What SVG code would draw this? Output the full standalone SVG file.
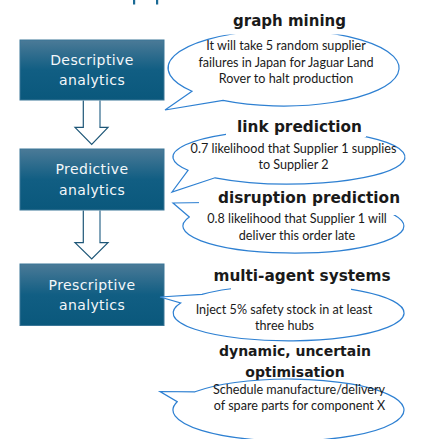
<svg xmlns="http://www.w3.org/2000/svg" width="424" height="439" viewBox="0 0 424 439">
  <defs>
    <linearGradient id="boxGrad" x1="0" y1="0" x2="0" y2="1">
      <stop offset="0" stop-color="#4b7a97"/>
      <stop offset="0.5" stop-color="#115e83"/>
      <stop offset="1" stop-color="#0a587c"/>
    </linearGradient>
    <style>
      .box { fill: url(#boxGrad); stroke: #3a7697; stroke-width: 1; }
      .boxText { font-family: "DejaVu Sans", Verdana, sans-serif; font-size: 14px; fill: #f3f7fa; text-anchor: middle; letter-spacing: 0.4px; }
      .balloon { fill: #ffffff; stroke: #2e80d2; stroke-width: 1.2; }
      .titleBg { fill: #ffffff; stroke: none; }
      .title { font-family: "DejaVu Sans", Verdana, sans-serif; font-weight: bold; font-size: 15.3px; fill: #1a1a1a; text-anchor: middle; }
      .body { font-family: Lato, "Liberation Sans", sans-serif; font-size: 12.6px; fill: #1a1a1a; text-anchor: middle; }
      .arrow { fill: #ffffff; stroke: #1d5677; stroke-width: 1.2; }
      .arrowEdge { fill: none; stroke: #86a8bd; stroke-width: 1.6; }
    </style>
  </defs>

  <rect x="0" y="0" width="424" height="439" fill="#ffffff"/>

  <!-- cut-off remnants at top -->
  <rect x="133" y="0" width="2.2" height="4.5" fill="#1b6a95"/>
  <rect x="156" y="0" width="2.2" height="4.5" fill="#1b6a95"/>

  <g id="connectors">
    <path class="arrow" d="M83.3,100.5 V127.3 H75 L91.7,144.3 L108,127.3 H100 V100.5"/>
    <line class="arrowEdge" x1="100" y1="101" x2="100" y2="126.5"/>
    <path class="arrow" d="M83.3,210.5 V242.7 H75 L91.7,259 L108,242.7 H100 V210.5"/>
    <line class="arrowEdge" x1="100" y1="211" x2="100" y2="242"/>
  </g>

  <g id="descriptive">
    <rect class="box" x="20" y="40" width="144" height="60"/>
    <text class="boxText" x="92" y="64.5">Descriptive</text>
    <text class="boxText" x="92" y="85">analytics</text>
  </g>

  <g id="predictive">
    <rect class="box" x="20" y="149" width="144" height="61"/>
    <text class="boxText" x="92" y="174">Predictive</text>
    <text class="boxText" x="92" y="194.5">analytics</text>
  </g>

  <g id="prescriptive">
    <rect class="box" x="20" y="264" width="144" height="61.5"/>
    <text class="boxText" x="92" y="289.5">Prescriptive</text>
    <text class="boxText" x="92" y="310">analytics</text>
  </g>

  <g id="graph-mining">
    <path class="balloon" d="M192,91.2 L165,110 L223,100.4 A115.5 38 0 1 0 192,91.2 Z"/>
    <rect class="titleBg" x="224" y="6" width="140" height="28.5"/>
    <text class="title" x="289.5" y="26" style="font-size:15px">graph mining</text>
    <text class="body" x="286" y="50">It will take 5 random supplier</text>
    <text class="body" x="286" y="66.5">failures in Japan for Jaguar Land</text>
    <text class="body" x="286" y="83">Rover to halt production</text>
  </g>

  <g id="link-prediction">
    <path class="balloon" d="M188,170.3 L172,192 L215,177.8 A116 27 0 1 0 188,170.3 Z"/>
    <rect class="titleBg" x="226" y="112" width="140" height="25"/>
    <text class="title" x="299.5" y="132">link prediction</text>
    <text class="body" x="293.5" y="153">0.7 likelihood that Supplier 1 supplies</text>
    <text class="body" x="293.5" y="169">to Supplier 2</text>
  </g>

  <g id="disruption-prediction">
    <path class="balloon" d="M243,202 L173,203 L189.3,217 A110.5 27 0 1 0 243,202 Z"/>
    <rect class="titleBg" x="199" y="185" width="201" height="30"/>
    <text class="title" x="309" y="203">disruption prediction</text>
    <text class="body" x="297" y="223">0.8 likelihood that Supplier 1 will</text>
    <text class="body" x="297" y="240">deliver this order late</text>
  </g>

  <g id="multi-agent-systems">
    <path class="balloon" d="M202,294.4 L160,297 L180.6,303 A115.5 28 0 1 0 202,294.4 Z"/>
    <rect class="titleBg" x="231" y="262" width="120" height="29"/>
    <text class="title" x="302" y="281">multi-agent systems</text>
    <text class="body" x="284" y="313.5">Inject 5% safety stock in at least</text>
    <text class="body" x="284.5" y="329.5">three hubs</text>
  </g>

  <g id="dynamic-optimisation">
    <path class="balloon" d="M195,391.8 L160,391.5 L177.2,401.7 A115.5 31 0 1 0 195,391.8 Z"/>
    <text class="title" x="295" y="356" style="font-size:14px">dynamic, uncertain</text>
    <text class="title" x="295" y="377" style="font-size:14px">optimisation</text>
    <text class="body" x="299" y="394">Schedule manufacture/delivery</text>
    <text class="body" x="299.5" y="410">of spare parts for component X</text>
  </g>
</svg>
